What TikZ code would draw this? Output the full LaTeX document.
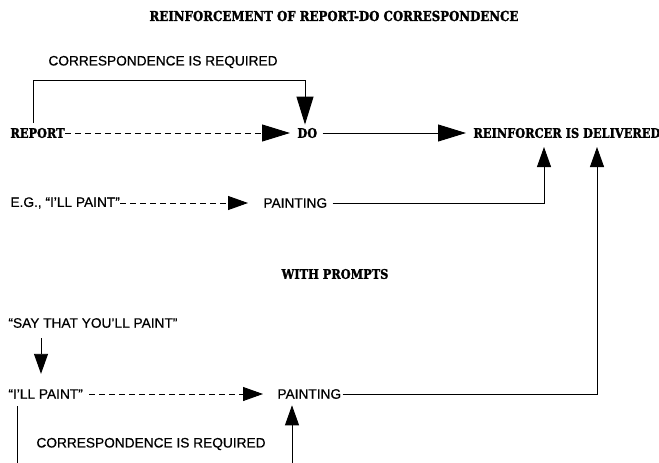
\documentclass[tikz,border=0pt]{standalone}
\usepackage{fontspec}
\setmainfont[FakeBold=0.6]{Liberation Sans}
\newfontfamily\slabfont[FakeBold=1.6,FakeStretch=0.86]{DejaVu Serif}
\usetikzlibrary{arrows.meta}

\begin{document}
\begin{tikzpicture}[x=1pt,y=-1pt,
  line width=0.9pt,
  head/.style={inner sep=0pt,anchor=west,font=\slabfont\bfseries\fontsize{13.2}{15}\selectfont},
  plain/.style={inner sep=0pt,anchor=west,font=\fontsize{13.7}{16}\selectfont},
  bigtip/.style={-{Triangle[length=28pt,width=17pt]}},
  midtip/.style={-{Triangle[length=20pt,width=14pt]}},
  dashline/.style={dash pattern=on 6pt off 4pt},
]
\useasboundingbox (0,0) rectangle (659,463);

% titles
\node[head,anchor=center,font=\slabfont\bfseries\fontsize{13.7}{16}\selectfont] (title) at (334,16) {REINFORCEMENT OF REPORT-DO CORRESPONDENCE};
\node[head,anchor=center] (prompts) at (335,274) {WITH PROMPTS};

% upper chain
\node[plain] (req1) at (48,62) {CORRESPONDENCE IS REQUIRED};
\node[head] (report) at (10,133) {REPORT};
\node[head] (do) at (297,133) {DO};
\node[head] (reinf) at (473,133) {REINFORCER IS DELIVERED};
\node[plain] (eg) at (10,203) {E.G., “I’LL PAINT”};
\node[plain] (paint1) at (263,203) {PAINTING};

% lower chain
\node[plain] (say) at (8,323) {“SAY THAT YOU’LL PAINT”};
\node[plain] (ill) at (8,394) {“I’LL PAINT”};
\node[plain] (paint2) at (277,394) {PAINTING};
\node[plain] (req2) at (36,444) {CORRESPONDENCE IS REQUIRED};

% bend and end points
\coordinate (brk) at (305,80);
\coordinate (tipA) at (544,147);
\coordinate (tipB) at (597,147);
\coordinate (lowL) at (17,463);
\coordinate (lowR) at (292,463);

% connectors
\draw ([xshift=23pt,yshift=5pt]report.north west) |- (brk)
      [bigtip] -- ([yshift=3pt]brk |- do.north);
\draw[bigtip,dashline] (report.east) -- ([xshift=-7pt]do.west);
\draw[bigtip] ([xshift=5pt]do.east) -- ([xshift=-7pt]reinf.west);

\draw[midtip,dashline] (eg.east) -- ([xshift=-15pt]paint1.west);
\draw[midtip] ([xshift=5pt]paint1.east) -| (tipA);
\draw[midtip] ([xshift=1pt]paint2.east) -| (tipB);

\draw[midtip] ([xshift=33pt,yshift=-10pt]say.south west) -- ([xshift=33pt,yshift=15pt]ill.north west);
\draw[midtip,dashline] ([xshift=6pt]ill.east) -- ([xshift=-14pt]paint2.west);
\draw ([xshift=9pt,yshift=-7pt]ill.south west) -- (lowL);
\draw[midtip] (lowR) -- ([yshift=-6pt]lowR |- paint2.south);
\end{tikzpicture}
\end{document}
